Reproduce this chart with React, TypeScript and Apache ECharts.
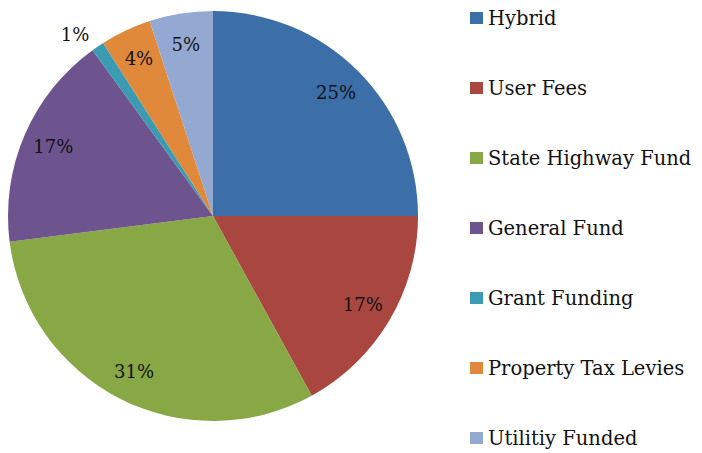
import React, { useEffect, useRef } from "react";
import * as echarts from "echarts";

const categories = [
  "Hybrid",
  "User Fees",
  "State Highway Fund",
  "General Fund",
  "Grant Funding",
  "Property Tax Levies",
  "Utilitiy Funded",
];
const values = [25, 17, 31, 17, 1, 4, 5];
const colors = ["#3C6EA8", "#AA4640", "#88A846", "#6E548E", "#3A9BB2", "#E0893A", "#94A9D2"];
const outsideLabels = ["Grant Funding"];

export default function App() {
  const ref = useRef<HTMLDivElement>(null);
  useEffect(() => {
    document.body.style.margin = "0";
    const chart = echarts.init(ref.current!, null, { renderer: "svg" });
    const font = "'DejaVu Serif', serif";
    const center = [213, 216];
    const R = 205;
    chart.setOption({
      animation: false,
      color: colors,
      legend: {
        orient: "vertical",
        left: 465,
        top: 8,
        padding: [0, 5],
        icon: "rect",
        itemWidth: 13,
        itemHeight: 12,
        itemGap: 50,
        data: categories,
        selectedMode: false,
        textStyle: { fontFamily: font, fontSize: 19.5, color: "#111" },
      },
      series: [
        {
          type: "pie",
          center,
          radius: [0, R],
          startAngle: 90,
          clockwise: true,
          silent: true,
          label: { show: false },
          labelLine: { show: false },
          data: categories.map((n, i) => ({ name: n, value: values[i], itemStyle: { color: colors[i] } })),
        },
        {
          type: "pie",
          center,
          radius: [137, R],
          startAngle: 90,
          clockwise: true,
          silent: true,
          itemStyle: { color: "rgba(0,0,0,0)" },
          label: {
            show: true,
            position: "inside",
            formatter: "{c}%",
            fontFamily: font,
            fontSize: 18,
            color: "#111",
          },
          labelLine: { show: false },
          data: categories.map((n, i) => ({
            name: n,
            value: values[i],
            itemStyle: { color: "rgba(0,0,0,0)" },
            label: outsideLabels.includes(n)
              ? { position: "outside", distanceToLabelLine: 0 }
              : undefined,
            labelLine: outsideLabels.includes(n)
              ? { show: false, length: 15, length2: 0 }
              : undefined,
          })),
        },
      ],
    });
    return () => chart.dispose();
  }, []);
  return <div ref={ref} style={{ width: 702, height: 453, background: "#fff" }} />;
}
